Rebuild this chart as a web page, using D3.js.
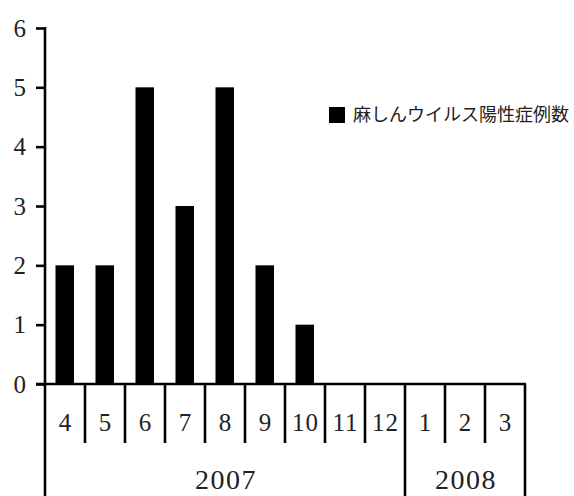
<!DOCTYPE html>
<html>
<head>
<meta charset="utf-8">
<script src="https://cdn.jsdelivr.net/npm/d3@7"></script>
<style>
  html, body { margin: 0; padding: 0; background: #fff; }
  svg { display: block; }
</style>
</head>
<body>
<svg id="chart" width="574" height="496"></svg>
<script>
// Monthly positive cases, April 2007 – March 2008
const months = ["4", "5", "6", "7", "8", "9", "10", "11", "12", "1", "2", "3"];
const cases = [2, 2, 5, 3, 5, 2, 1, 0, 0, 0, 0, 0];
const years = [
  { label: "2007", from: "4", to: "12" },
  { label: "2008", from: "1", to: "3" }
];
const yTicks = [0, 1, 2, 3, 4, 5, 6];
const seriesName = "麻しんウイルス陽性症例数";

(function () {
  const svg = d3.select("#chart");
  const serif = "'Liberation Serif', 'DejaVu Serif', serif";
  const sans = "'Noto Sans CJK JP', 'Noto Sans', sans-serif";
  const lw = 2.6;

  const plotLeft = 45, plotRight = 525, plotTop = 28, base = 384, bottom = 496;

  const x = d3.scaleBand().domain(months).range([plotLeft, plotRight]).paddingInner(0).paddingOuter(0);
  const y = d3.scaleLinear().domain([0, 6]).range([base, plotTop]);

  // Bars
  svg.append("g").selectAll("rect")
    .data(months.map((m, i) => ({ m, v: cases[i] })).filter(d => d.v > 0))
    .join("rect")
    .attr("x", d => x(d.m) + x.bandwidth() / 2 - 9.5)
    .attr("width", 18.5)
    .attr("y", d => y(d.v))
    .attr("height", d => y(0) - y(d.v))
    .attr("fill", "#000");

  // Y axis
  const yAxis = svg.append("g")
    .attr("transform", `translate(${plotLeft},0)`)
    .call(d3.axisLeft(y).tickValues(yTicks).tickFormat(d3.format("d")).tickSize(9).tickSizeOuter(0).tickPadding(10));
  yAxis.select(".domain").remove();
  yAxis.selectAll(".tick line").attr("stroke", "#000").attr("stroke-width", lw);
  yAxis.selectAll(".tick text")
    .attr("font-family", serif).attr("font-size", 25).attr("fill", "#222");

  const lines = svg.append("g").attr("stroke", "#000").attr("stroke-width", lw).attr("fill", "none");

  // Vertical axis line, running down through the category area
  lines.append("line").attr("x1", plotLeft).attr("x2", plotLeft).attr("y1", plotTop - 1).attr("y2", bottom);

  // Baseline
  lines.append("line").attr("x1", plotLeft - 9).attr("x2", plotRight + 1).attr("y1", base).attr("y2", base);

  // Month separators
  const yearStarts = new Set(years.map(d => d.from));
  months.slice(1).forEach(m => {
    lines.append("line")
      .attr("x1", x(m)).attr("x2", x(m))
      .attr("y1", base).attr("y2", yearStarts.has(m) ? bottom : 443);
  });
  lines.append("line").attr("x1", plotRight).attr("x2", plotRight).attr("y1", base).attr("y2", bottom);

  // Month labels
  svg.append("g").selectAll("text")
    .data(months)
    .join("text")
    .attr("x", d => x(d) + x.bandwidth() / 2 + (d.length > 1 ? 0.5 : 0))
    .attr("y", 422)
    .attr("dy", "0.35em")
    .attr("text-anchor", "middle")
    .attr("letter-spacing", d => d.length > 1 ? 1 : 0)
    .attr("font-family", serif).attr("font-size", 25).attr("fill", "#222")
    .text(d => d);

  // Year labels
  svg.append("g").selectAll("text")
    .data(years)
    .join("text")
    .attr("x", d => (x(d.from) + x(d.to) + x.bandwidth()) / 2 + 1)
    .attr("y", 479)
    .attr("dy", "0.35em")
    .attr("text-anchor", "middle")
    .attr("letter-spacing", 1.5)
    .attr("font-family", serif).attr("font-size", 28).attr("fill", "#222")
    .text(d => d.label);

  // Legend
  const legend = svg.append("g").attr("transform", "translate(329,107)");
  legend.append("rect").attr("width", 16).attr("height", 16).attr("fill", "#000");
  legend.append("text")
    .attr("x", 24).attr("y", 8).attr("dy", "0.36em")
    .attr("font-family", sans).attr("font-size", 18).attr("fill", "#222")
    .text(seriesName);
})();
</script>
</body>
</html>
